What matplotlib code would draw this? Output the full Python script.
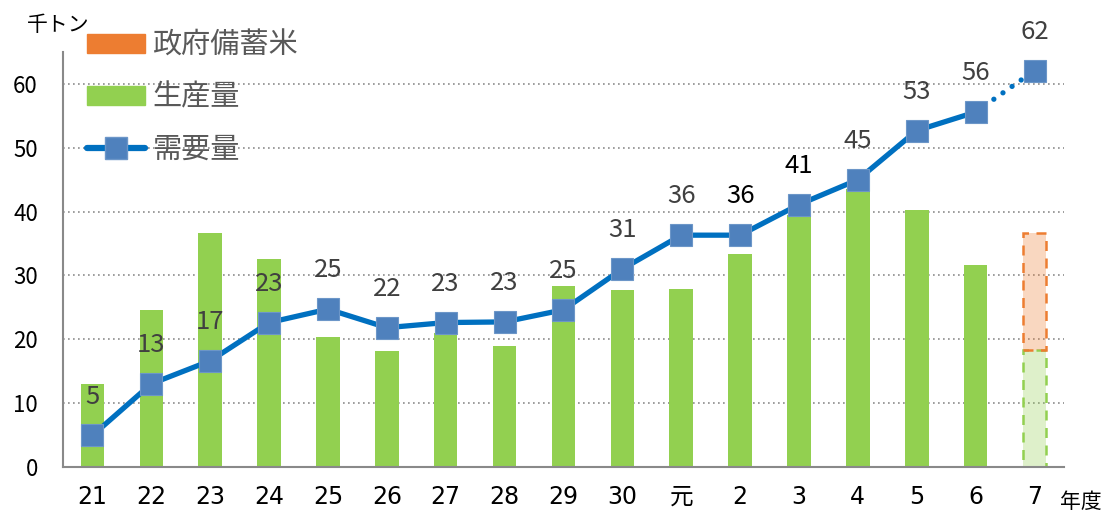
import matplotlib.pyplot as plt
from matplotlib.patches import Patch
from matplotlib.lines import Line2D

plt.rcParams['font.family'] = ['Noto Sans CJK JP', 'DejaVu Sans']

years = ['21', '22', '23', '24', '25', '26', '27', '28', '29', '30', '元',
         '2', '3', '4', '5', '6', '7']
production = [13.0, 24.6, 36.7, 32.5, 20.3, 18.2, 21.0, 18.9, 28.3, 27.7, 27.9,
              33.3, 39.5, 43.5, 40.2, 31.6, 18.3]
reserve_rice = [0, 0, 0, 0, 0, 0, 0, 0, 0, 0, 0, 0, 0, 0, 0, 0, 18.3]
demand = [4.9, 13.0, 16.6, 22.6, 24.7, 21.8, 22.6, 22.7, 24.6, 31.0, 36.3,
          36.3, 41.1, 45.0, 52.7, 55.6, 62.1]
demand_labels = ['5', '13', '17', '23', '25', '22', '23', '23', '25', '31', '36',
                 '36', '41', '45', '53', '56', '62']

GREEN = '#92D050'
ORANGE = '#ED7D31'
LINE = '#0070C0'
MARK = '#4F81BD'
GRAY = '#595959'

fig = plt.figure(figsize=(11.2, 5.15), dpi=100)
ax = fig.add_axes([0.05625, 0.0938, 0.8937, 0.805])

x = list(range(len(years)))
w = 0.40
n = len(years)

# production bars (last year is a forecast, drawn pale and dashed)
ax.bar(x[:-1], production[:-1], width=w, color=GREEN, zorder=2)
ax.bar(x[-1], production[-1], width=w, color=GREEN, alpha=0.3, zorder=2)
ax.bar(x[-1], production[-1], width=w, facecolor='none', edgecolor=GREEN,
       linestyle=(0, (4, 3)), linewidth=1.8, zorder=2)
ax.bar(x[-1], reserve_rice[-1], bottom=production[-1], width=w, color=ORANGE,
       alpha=0.3, zorder=2)
ax.bar(x[-1], reserve_rice[-1], bottom=production[-1], width=w, facecolor='none',
       edgecolor=ORANGE, linestyle=(0, (4, 3)), linewidth=1.8, zorder=2)

# demand line
ax.plot(x[:-1], demand[:-1], color=LINE, linewidth=3.8, zorder=3,
        solid_capstyle='round')
ax.plot(x[-2:], demand[-2:], color=LINE, linewidth=3.8, zorder=3,
        linestyle=(0, (0.01, 2.1)), dash_capstyle='round')
ax.plot(x, demand, linestyle='none', marker='s', markersize=16,
        markerfacecolor=MARK, markeredgecolor='#6C96C8', markeredgewidth=0.8,
        zorder=4)

for i, (v, lab) in enumerate(zip(demand, demand_labels)):
    c = 'black' if i in (11, 12) else '#404040'
    ax.annotate(lab, (i, v), xytext=(0, 28), textcoords='offset points',
                ha='center', va='center', fontsize=18.5, color=c, zorder=5)

ax.set_xlim(-0.5, n - 0.5)
ax.set_ylim(0, 65)
ax.set_yticks(range(0, 61, 10))
ax.set_xticks(x)
ax.set_xticklabels(years, family=['DejaVu Sans', 'Noto Sans CJK JP'])
ax.tick_params(axis='x', length=0, pad=13, labelsize=17)
ax.tick_params(axis='y', length=0, pad=18, labelsize=16)
for s in ('top', 'right'):
    ax.spines[s].set_visible(False)
ax.spines['left'].set_color('#898989')
ax.spines['bottom'].set_color('#898989')
ax.spines['left'].set_linewidth(1.5)
ax.spines['bottom'].set_linewidth(1.5)
ax.yaxis.grid(True, linestyle=(0, (1, 2)), color='#8c8c8c', linewidth=1.2)
ax.set_axisbelow(True)

fig.text(27 / 1120, 1 - 25 / 515, '千トン', fontsize=15, va='center', ha='left')
fig.text(1060 / 1120, 1 - 502 / 515, '年度', fontsize=15, va='center', ha='left')

handles = [
    Patch(facecolor=ORANGE, edgecolor=ORANGE),
    Patch(facecolor=GREEN, edgecolor=GREEN),
    Line2D([0], [0], color=LINE, linewidth=4.5, marker='s', markersize=16,
           markerfacecolor=MARK, markeredgecolor='#6C96C8',
           solid_capstyle='round'),
]
leg = fig.legend(handles, ['政府備蓄米', '生産量', '需要量'],
                 loc='upper left', bbox_to_anchor=(87 / 1120, 1 - 31 / 515),
                 frameon=False, fontsize=21, labelcolor=GRAY,
                 handlelength=2.0, handleheight=0.62, handletextpad=0.24,
                 labelspacing=0.75, borderpad=0, borderaxespad=0)

fig.savefig('out.png', dpi=100)
